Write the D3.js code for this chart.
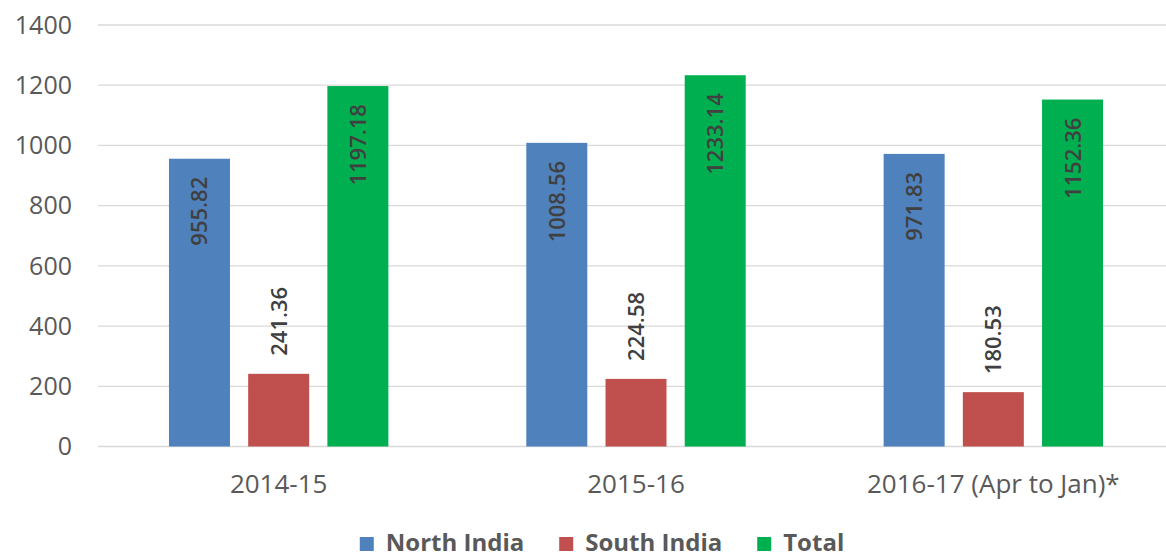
<!DOCTYPE html>
<html>
<head>
<meta charset="utf-8">
<script src="https://cdn.jsdelivr.net/npm/d3@7"></script>
<style>
  body { margin: 0; background: #fff; }
  svg { display: block; font-family: "Open Sans", sans-serif; }
</style>
</head>
<body>
<svg id="chart" width="1166" height="559"></svg>
<script>
// chart data
const categories = ['2014-15', '2015-16', '2016-17 (Apr to Jan)*'];
const seriesNames = ['North India', 'South India', 'Total'];
const northIndia = [955.82, 1008.56, 971.83];
const southIndia = [241.36, 224.58, 180.53];
const total = [1197.18, 1233.14, 1152.36];
const yTicks = [0, 200, 400, 600, 800, 1000, 1200, 1400];

const colors = ['#4F81BD', '#C0504D', '#00B050'];
const seriesValues = [northIndia, southIndia, total];

const svg = d3.select('#chart');
const margin = { left: 100, right: -6, top: 25, bottom: 112 };
const width = 1166, height = 559;

const x0 = d3.scaleBand()
  .domain(categories)
  .range([margin.left, width - margin.right])
  .paddingInner(0.386)
  .paddingOuter(0.193);

const x1 = d3.scaleBand()
  .domain(seriesNames)
  .range([0, x0.bandwidth()])
  .paddingInner(0.23);

const y = d3.scaleLinear()
  .domain([0, 1400])
  .range([height - margin.bottom - 0.5, margin.top]);

// gridlines
svg.append('g')
  .selectAll('line')
  .data(yTicks)
  .enter().append('line')
  .attr('x1', 98)
  .attr('x2', width)
  .attr('y1', d => y(d))
  .attr('y2', d => y(d))
  .attr('stroke', '#D9D9D9')
  .attr('stroke-width', 1.3);

// y tick labels
svg.append('g')
  .selectAll('text')
  .data(yTicks)
  .enter().append('text')
  .attr('x', 72)
  .attr('y', d => y(d))
  .attr('dy', '0.35em')
  .attr('text-anchor', 'end')
  .attr('font-size', 25)
  .attr('fill', '#595959')
  .text(d => d);

// x labels
svg.append('g')
  .selectAll('text')
  .data(categories)
  .enter().append('text')
  .attr('x', d => x0(d) + x0.bandwidth() / 2)
  .attr('y', 493)
  .attr('text-anchor', 'middle')
  .attr('font-size', 26)
  .attr('fill', '#595959')
  .text(d => d);

// bars
const rows = categories.map((c, i) => ({
  category: c,
  values: seriesNames.map((s, j) => ({ series: s, index: j, value: seriesValues[j][i] }))
}));

const groups = svg.append('g')
  .selectAll('g')
  .data(rows)
  .enter().append('g')
  .attr('transform', d => `translate(${x0(d.category)},0)`);

groups.selectAll('rect')
  .data(d => d.values)
  .enter().append('rect')
  .attr('x', d => x1(d.series))
  .attr('width', x1.bandwidth())
  .attr('y', d => y(d.value))
  .attr('height', d => y(0) - y(d.value))
  .attr('fill', d => colors[d.index]);

// value labels, rotated
const labels = groups.selectAll('text.value')
  .data(d => d.values)
  .enter().append('text')
  .attr('class', 'value')
  .attr('font-size', 22)
  .attr('font-weight', 600)
  .attr('fill', '#404040')
  .attr('text-anchor', 'end')
  .text(d => d.value.toFixed(2));

labels.each(function (d) {
  const len = this.getComputedTextLength();
  const barH = y(0) - y(d.value);
  const cx = x1(d.series) + x1.bandwidth() / 2;
  const pad = 18;
  let top;
  if (barH > len + pad * 2) {
    top = y(d.value) + pad;          // inside end
  } else {
    top = y(d.value) - pad - len;    // outside end
  }
  d3.select(this)
    .attr('transform', `translate(${cx + 8},${top}) rotate(-90)`);
});

// legend
const legend = svg.append('g');
let lx = 0;
seriesNames.forEach((s, i) => {
  const item = legend.append('g').attr('transform', `translate(${lx},0)`);
  item.append('rect')
    .attr('x', 0).attr('y', 537)
    .attr('width', 14).attr('height', 14)
    .attr('fill', colors[i]);
  const t = item.append('text')
    .attr('x', 26).attr('y', 551)
    .attr('font-size', 24)
    .attr('font-weight', 700)
    .attr('fill', '#595959')
    .text(s);
  lx += 26 + t.node().getComputedTextLength() + 35;
});
const legendW = lx - 35;
legend.attr('transform', `translate(${602 - legendW / 2},0)`);
</script>
</body>
</html>
